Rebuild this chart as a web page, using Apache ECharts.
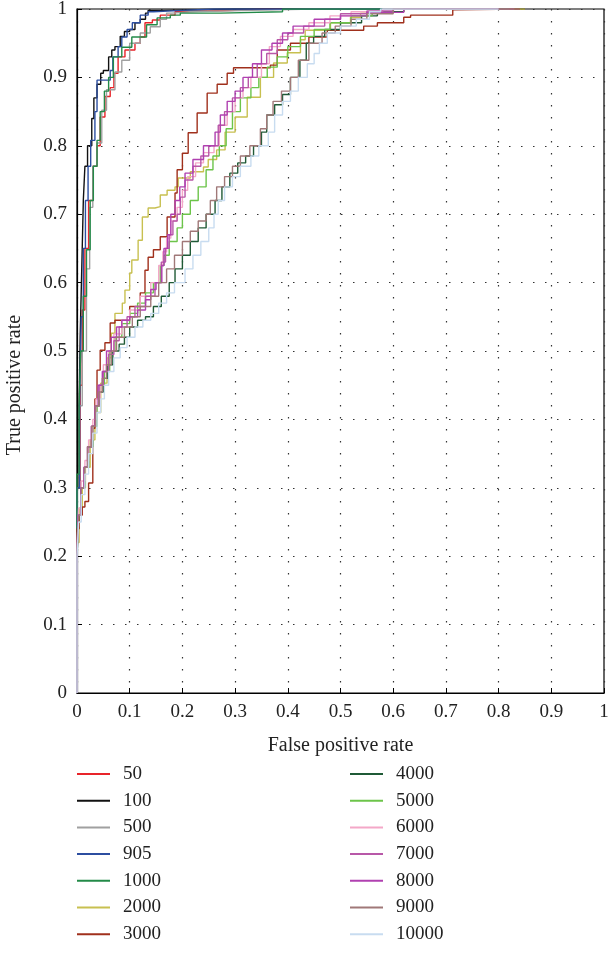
<!DOCTYPE html>
<html>
<head>
<meta charset="utf-8">
<script src="https://cdn.jsdelivr.net/npm/echarts@6/dist/echarts.min.js"></script>
<style>
  html, body { margin: 0; padding: 0; background: #fff; }
  #chart { width: 610px; height: 961px; }
</style>
</head>
<body>
<div id="chart"></div>
<script>
// ROC points [false positive rate, true positive rate]
var xTicks = [0, 0.1, 0.2, 0.3, 0.4, 0.5, 0.6, 0.7, 0.8, 0.9, 1]
var names = ['50', '100', '500', '905', '1000', '2000', '3000', '4000', '5000', '6000', '7000', '8000', '9000', '10000']
var colors = ['#e8242a', '#111111', '#a0a0a0', '#2c4ea0', '#238a48', '#c8c050', '#a0301c', '#1f5a36', '#6cc44a', '#f4a8c8', '#b858a8', '#b040b0', '#a07878', '#c8dcf0']

var roc50 = [[0,0],[0,0.15],[0.006,0.3],[0.01,0.45],[0.015,0.56],[0.022,0.65],[0.03,0.72],[0.038,0.77],[0.044,0.80],[0.053,0.842],[0.063,0.872],[0.07,0.885],[0.078,0.906],[0.091,0.93],[0.11,0.94],[0.12,0.95],[0.129,0.959],[0.143,0.98],[0.158,0.984],[0.186,0.991],[0.196,0.996],[0.3,0.998],[0.35,1],[0.84,1]]
var roc100 = [[0,0],[0,0.2],[0.004,0.3],[0.006,0.42],[0.009,0.52],[0.012,0.62],[0.015,0.72],[0.02,0.77],[0.028,0.80],[0.032,0.84],[0.038,0.87],[0.045,0.89],[0.05,0.906],[0.06,0.91],[0.066,0.93],[0.072,0.94],[0.082,0.945],[0.09,0.96],[0.1,0.967],[0.11,0.97],[0.12,0.98],[0.13,0.985],[0.135,0.994],[0.16,0.998],[0.3,1],[0.85,1]]
var roc500 = [[0,0],[0,0.16],[0.005,0.3],[0.01,0.42],[0.018,0.5],[0.024,0.62],[0.03,0.71],[0.038,0.77],[0.047,0.804],[0.056,0.852],[0.072,0.882],[0.085,0.908],[0.10,0.925],[0.12,0.95],[0.139,0.965],[0.158,0.974],[0.17,0.985],[0.18,0.994],[0.215,0.996],[0.33,0.998],[0.45,1],[0.84,1]]
var roc905 = [[0,0],[0,0.18],[0.005,0.3],[0.008,0.42],[0.012,0.55],[0.016,0.65],[0.021,0.72],[0.026,0.77],[0.034,0.808],[0.038,0.85],[0.044,0.896],[0.063,0.896],[0.068,0.91],[0.078,0.93],[0.085,0.945],[0.095,0.959],[0.105,0.97],[0.12,0.98],[0.135,0.991],[0.145,0.996],[0.2,0.998],[0.26,1],[0.84,1]]
var roc1000 = [[0,0],[0,0.2],[0.004,0.32],[0.007,0.42],[0.012,0.5],[0.018,0.58],[0.025,0.648],[0.031,0.72],[0.038,0.77],[0.044,0.808],[0.052,0.85],[0.06,0.88],[0.069,0.90],[0.085,0.93],[0.104,0.944],[0.132,0.959],[0.152,0.977],[0.177,0.987],[0.196,0.991],[0.272,0.994],[0.39,0.996],[0.45,1],[0.84,1]]
var roc2000 = [[0,0],[0,0.16],[0.004,0.22],[0.01,0.27],[0.016,0.3],[0.025,0.33],[0.034,0.37],[0.045,0.41],[0.057,0.453],[0.065,0.49],[0.072,0.526],[0.072,0.555],[0.086,0.555],[0.091,0.57],[0.10,0.589],[0.104,0.614],[0.116,0.633],[0.124,0.662],[0.135,0.696],[0.148,0.709],[0.158,0.711],[0.171,0.728],[0.186,0.735],[0.192,0.74],[0.215,0.753],[0.24,0.762],[0.249,0.769],[0.265,0.78],[0.281,0.794],[0.30,0.82],[0.323,0.842],[0.348,0.871],[0.373,0.90],[0.399,0.921],[0.424,0.936],[0.433,0.955],[0.481,0.969],[0.519,0.98],[0.538,0.988],[0.57,0.994],[0.62,0.996],[0.7,1],[0.85,1]]
var roc3000 = [[0,0],[0,0.17],[0.004,0.24],[0.01,0.26],[0.015,0.272],[0.022,0.28],[0.03,0.307],[0.034,0.387],[0.038,0.43],[0.044,0.472],[0.053,0.501],[0.063,0.512],[0.072,0.541],[0.10,0.545],[0.12,0.565],[0.129,0.585],[0.135,0.618],[0.145,0.637],[0.158,0.648],[0.171,0.667],[0.186,0.696],[0.19,0.731],[0.20,0.765],[0.211,0.789],[0.228,0.819],[0.247,0.848],[0.266,0.877],[0.285,0.89],[0.297,0.906],[0.323,0.914],[0.367,0.914],[0.38,0.918],[0.405,0.94],[0.44,0.95],[0.475,0.959],[0.544,0.969],[0.57,0.975],[0.62,0.98],[0.633,0.988],[0.713,0.991],[0.713,0.999],[0.84,1]]
var roc4000 = [[0,0],[0,0.14],[0.003,0.2],[0.008,0.26],[0.015,0.3],[0.022,0.33],[0.03,0.36],[0.037,0.39],[0.043,0.42],[0.05,0.44],[0.058,0.46],[0.068,0.48],[0.08,0.5],[0.09,0.51],[0.1,0.52],[0.115,0.535],[0.13,0.545],[0.145,0.55],[0.16,0.565],[0.175,0.58],[0.186,0.6],[0.2,0.62],[0.215,0.64],[0.23,0.66],[0.245,0.68],[0.262,0.70],[0.275,0.72],[0.29,0.74],[0.305,0.76],[0.32,0.775],[0.335,0.785],[0.35,0.80],[0.36,0.82],[0.375,0.845],[0.39,0.86],[0.405,0.875],[0.423,0.9],[0.435,0.925],[0.449,0.95],[0.47,0.96],[0.5,0.97],[0.54,0.98],[0.57,0.99],[0.62,0.996],[0.7,1],[0.82,1]]
var roc5000 = [[0,0],[0,0.15],[0.003,0.2],[0.008,0.26],[0.015,0.3],[0.022,0.33],[0.03,0.36],[0.038,0.39],[0.044,0.42],[0.052,0.45],[0.062,0.47],[0.072,0.5],[0.085,0.52],[0.1,0.54],[0.115,0.555],[0.13,0.57],[0.145,0.585],[0.158,0.6],[0.165,0.625],[0.175,0.64],[0.19,0.66],[0.2,0.68],[0.215,0.70],[0.23,0.72],[0.245,0.74],[0.258,0.765],[0.27,0.785],[0.283,0.80],[0.295,0.825],[0.31,0.85],[0.33,0.87],[0.345,0.885],[0.361,0.90],[0.38,0.915],[0.4,0.93],[0.424,0.945],[0.45,0.96],[0.48,0.97],[0.52,0.98],[0.56,0.99],[0.6,0.995],[0.68,1],[0.82,1]]
var roc6000 = [[0,0],[0,0.15],[0.003,0.21],[0.008,0.27],[0.015,0.31],[0.022,0.34],[0.03,0.37],[0.036,0.4],[0.044,0.43],[0.05,0.45],[0.06,0.48],[0.07,0.5],[0.085,0.525],[0.1,0.545],[0.12,0.56],[0.14,0.58],[0.155,0.6],[0.163,0.625],[0.17,0.645],[0.178,0.665],[0.19,0.69],[0.2,0.71],[0.21,0.735],[0.225,0.755],[0.24,0.775],[0.26,0.79],[0.27,0.80],[0.285,0.83],[0.3,0.85],[0.315,0.87],[0.33,0.885],[0.35,0.9],[0.365,0.92],[0.386,0.945],[0.41,0.96],[0.44,0.97],[0.48,0.98],[0.52,0.99],[0.58,0.996],[0.65,1],[0.8,1]]
var roc7000 = [[0,0],[0,0.14],[0.003,0.2],[0.008,0.26],[0.014,0.3],[0.02,0.33],[0.028,0.36],[0.035,0.39],[0.042,0.42],[0.05,0.45],[0.06,0.47],[0.07,0.495],[0.08,0.515],[0.095,0.535],[0.11,0.55],[0.13,0.565],[0.148,0.58],[0.16,0.6],[0.168,0.63],[0.175,0.65],[0.182,0.67],[0.19,0.69],[0.196,0.70],[0.205,0.725],[0.22,0.75],[0.235,0.77],[0.25,0.785],[0.268,0.80],[0.28,0.83],[0.295,0.85],[0.31,0.87],[0.325,0.885],[0.342,0.9],[0.36,0.92],[0.38,0.935],[0.4,0.955],[0.43,0.965],[0.47,0.975],[0.5,0.985],[0.55,0.993],[0.6,0.997],[0.66,1],[0.83,1]]
var roc8000 = [[0,0],[0,0.15],[0.002,0.2],[0.007,0.26],[0.013,0.3],[0.02,0.33],[0.027,0.36],[0.034,0.39],[0.04,0.42],[0.048,0.45],[0.056,0.47],[0.065,0.5],[0.075,0.52],[0.085,0.535],[0.1,0.545],[0.115,0.55],[0.13,0.56],[0.14,0.575],[0.15,0.59],[0.161,0.6],[0.165,0.625],[0.172,0.65],[0.178,0.67],[0.186,0.70],[0.195,0.72],[0.205,0.74],[0.22,0.76],[0.24,0.78],[0.262,0.80],[0.272,0.82],[0.285,0.845],[0.3,0.865],[0.315,0.88],[0.333,0.9],[0.35,0.92],[0.37,0.94],[0.39,0.95],[0.41,0.965],[0.45,0.975],[0.5,0.985],[0.55,0.99],[0.62,0.995],[0.66,1],[0.8,1]]
var roc9000 = [[0,0],[0,0.15],[0.003,0.21],[0.008,0.26],[0.014,0.3],[0.02,0.33],[0.028,0.36],[0.035,0.39],[0.041,0.42],[0.048,0.44],[0.056,0.46],[0.065,0.48],[0.075,0.5],[0.09,0.52],[0.105,0.535],[0.12,0.55],[0.14,0.565],[0.155,0.58],[0.17,0.6],[0.185,0.62],[0.2,0.64],[0.215,0.66],[0.23,0.675],[0.245,0.69],[0.253,0.70],[0.265,0.72],[0.28,0.74],[0.295,0.755],[0.31,0.77],[0.328,0.785],[0.348,0.80],[0.36,0.825],[0.372,0.845],[0.388,0.865],[0.405,0.88],[0.42,0.9],[0.44,0.925],[0.465,0.95],[0.49,0.965],[0.52,0.975],[0.55,0.985],[0.6,0.993],[0.68,1],[0.84,1]]
var roc10000 = [[0,0],[0,0.13],[0.003,0.2],[0.008,0.25],[0.015,0.29],[0.022,0.32],[0.03,0.35],[0.038,0.38],[0.045,0.41],[0.052,0.43],[0.06,0.45],[0.07,0.47],[0.082,0.49],[0.095,0.505],[0.11,0.52],[0.125,0.535],[0.14,0.545],[0.155,0.555],[0.17,0.57],[0.185,0.585],[0.205,0.6],[0.22,0.62],[0.235,0.64],[0.25,0.66],[0.26,0.68],[0.268,0.70],[0.28,0.72],[0.295,0.74],[0.31,0.755],[0.33,0.77],[0.345,0.785],[0.363,0.80],[0.375,0.82],[0.39,0.845],[0.405,0.865],[0.42,0.88],[0.437,0.9],[0.45,0.92],[0.46,0.935],[0.475,0.95],[0.5,0.965],[0.53,0.975],[0.555,0.985],[0.576,0.996],[0.65,1],[0.8,1]]

var rocData = [roc50, roc100, roc500, roc905, roc1000, roc2000, roc3000, roc4000, roc5000, roc6000, roc7000, roc8000, roc9000, roc10000]

var serif = '"Liberation Serif", "DejaVu Serif", serif'

var chart = echarts.init(document.getElementById('chart'))

var series = names.map(function (n, i) {
  return {
    name: n,
    type: 'line',
    step: 'start',
    symbol: 'none',
    data: rocData[i],
    lineStyle: { color: colors[i], width: 1.4 },
    itemStyle: { color: colors[i] },
    animation: false
  }
})

var legendBase = {
  orient: 'vertical',
  top: 764.5,
  padding: 0,
  itemWidth: 33,
  itemHeight: 2,
  itemGap: 7.7,
  icon: 'rect',
  textStyle: { fontFamily: serif, fontSize: 19, color: '#222', padding: [0, 0, 0, 8] }
}

var option = {
  backgroundColor: '#fff',
  animation: false,
  color: colors,
  grid: {
    left: 77, right: 6, top: 9, bottom: 268,
    outerBoundsMode: 'none',
    show: true, borderColor: '#000', borderWidth: 1.2
  },
  legend: [
    Object.assign({ left: 77, data: names.slice(0, 7) }, legendBase),
    Object.assign({ left: 350, data: names.slice(7) }, legendBase)
  ],
  xAxis: {
    type: 'value',
    min: 0, max: 1, interval: 0.1,
    name: 'False positive rate',
    nameLocation: 'middle',
    nameGap: 43,
    nameTextStyle: { fontFamily: serif, fontSize: 20, color: '#222' },
    axisLine: { show: true, lineStyle: { color: '#000', width: 1.2 } },
    axisTick: { show: true, inside: true, length: 5, lineStyle: { color: '#000' } },
    axisLabel: {
      fontFamily: serif, fontSize: 19, color: '#222', margin: 10,
      formatter: function (v) { return String(+v.toFixed(1)) }
    },
    splitLine: { show: true, lineStyle: { color: '#333', type: [1.5, 10.5], width: 1.2 } }
  },
  yAxis: {
    type: 'value',
    min: 0, max: 1, interval: 0.1,
    name: 'True positive rate',
    nameLocation: 'middle',
    nameGap: 52,
    nameTextStyle: { fontFamily: serif, fontSize: 20, color: '#222', padding: [0, 68, 0, 0] },
    axisLine: { show: true, lineStyle: { color: '#000', width: 1.2 } },
    axisTick: { show: true, inside: true, length: 5, lineStyle: { color: '#000' } },
    axisLabel: {
      fontFamily: serif, fontSize: 19, color: '#222', margin: 10,
      formatter: function (v) { return String(+v.toFixed(1)) }
    },
    splitLine: { show: true, lineStyle: { color: '#333', type: [1.5, 10.5], width: 1.2 } }
  },
  series: series
}

chart.setOption(option)
</script>
</body>
</html>
